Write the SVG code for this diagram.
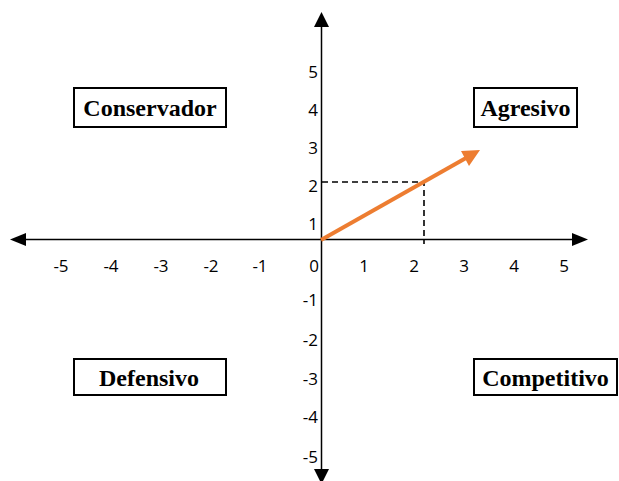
<svg xmlns="http://www.w3.org/2000/svg" width="619" height="481" viewBox="0 0 619 481">
<style>
.ax{stroke:#000;stroke-width:1.5;fill:none}
.box{fill:#fff;stroke:#000;stroke-width:2}
.lbl{font-family:"Liberation Serif","Times New Roman",serif;font-weight:bold;font-size:24px;fill:#000;text-anchor:middle}
.num{font-family:"Open Sans","Liberation Sans",sans-serif;font-size:17px;fill:#000}
.xn{text-anchor:middle}
.yn{text-anchor:end}
.dash{stroke:#000;stroke-width:1.6;stroke-dasharray:6 4;fill:none}
</style>
<rect width="619" height="481" fill="#fff"/>
<g id="connectors">
<line class="ax" x1="24" y1="239.5" x2="575" y2="239.5"/>
<polygon points="10,239.5 26,233 26,246" fill="#000"/>
<polygon points="588,239.5 572,233 572,246" fill="#000"/>
<line class="ax" x1="321.5" y1="25" x2="321.5" y2="472"/>
<polygon points="321.5,12 314,27 329,27" fill="#000"/>
<polygon points="321.5,484 314,469 329,469" fill="#000"/>
<polyline class="dash" points="322,182 424,182 424,244"/>
<line x1="321" y1="240" x2="466" y2="158" stroke="#ED7D31" stroke-width="4"/>
<polygon points="480,150 461,151 469,166" fill="#ED7D31"/>
</g>
<g id="x-labels" class="num xn">
<text x="61" y="272">-5</text>
<text x="111" y="272">-4</text>
<text x="161" y="272">-3</text>
<text x="211" y="272">-2</text>
<text x="260" y="272">-1</text>
<text x="314" y="272">0</text>
<text x="364" y="272">1</text>
<text x="414" y="272">2</text>
<text x="464" y="272">3</text>
<text x="514" y="272">4</text>
<text x="564" y="272">5</text>
</g>
<g id="y-labels" class="num yn">
<text x="318" y="78">5</text>
<text x="318" y="116">4</text>
<text x="318" y="154">3</text>
<text x="318" y="192">2</text>
<text x="318" y="230">1</text>
<text x="318" y="306">-1</text>
<text x="318" y="346">-2</text>
<text x="318" y="385">-3</text>
<text x="318" y="423">-4</text>
<text x="318" y="463">-5</text>
</g>
<g id="conservador">
<rect class="box" x="74" y="88" width="152" height="39"/>
<text class="lbl" x="150" y="116">Conservador</text>
</g>
<g id="agresivo">
<rect class="box" x="474" y="88" width="103" height="39"/>
<text class="lbl" x="525.5" y="116">Agresivo</text>
</g>
<g id="defensivo">
<rect class="box" x="74" y="359" width="152" height="36"/>
<text class="lbl" x="149" y="386">Defensivo</text>
</g>
<g id="competitivo">
<rect class="box" x="474" y="359" width="143" height="36"/>
<text class="lbl" x="545.5" y="386">Competitivo</text>
</g>
</svg>
